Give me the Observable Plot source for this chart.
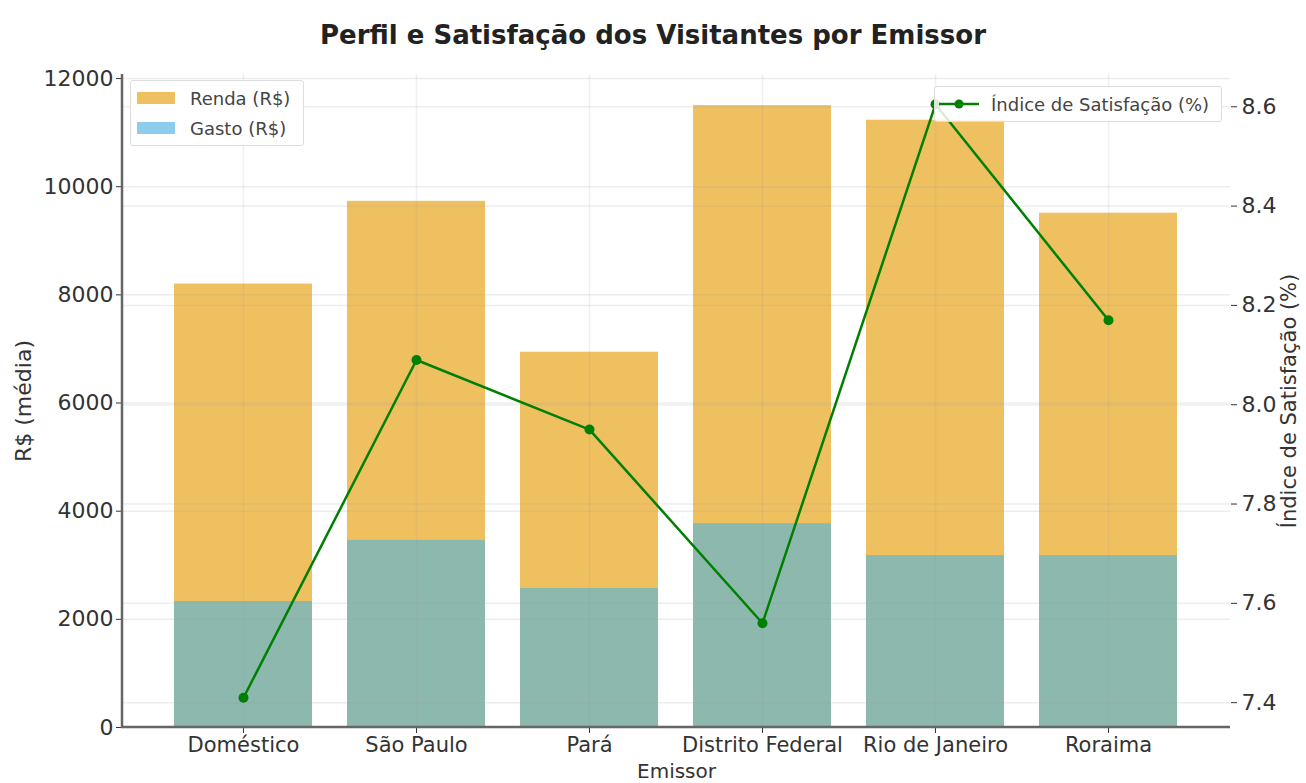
<!DOCTYPE html>
<html>
<head>
<meta charset="utf-8">
<script src="https://cdn.jsdelivr.net/npm/d3@7"></script>
<script src="https://cdn.jsdelivr.net/npm/@observablehq/plot@0.6"></script>
<style>
  body { margin: 0; background: #fff; font-family: "DejaVu Sans", sans-serif; }
  #wrap { position: relative; width: 1306px; height: 783px; }
  #title { height: 56px; width: 1306px; text-align: center; font-weight: bold; font-size: 26px; line-height: 70px; color: #222; }
  .legend { position: absolute; background: rgba(255,255,255,0.85); border: 1px solid #ddd; border-radius: 3px; font-size: 18px; color: #444; }
  .row { display: flex; align-items: center; height: 30px; }
  .sw { width: 38px; height: 12px; margin: 0 15px 0 6px; }
</style>
</head>
<body>
<div id="wrap">
  <div id="title">Perfil e Satisfação dos Visitantes por Emissor</div>
  <div id="chart"></div>
  <div class="legend" style="left:130px; top:80px; width:172px; padding:2px 0;">
    <div class="row"><div class="sw" style="background:#EFC060"></div>Renda (R$)</div>
    <div class="row"><div class="sw" style="background:#8DCDEB"></div>Gasto (R$)</div>
  </div>
  <div class="legend" style="left:934px; top:86px; width:286px; height:34px;">
    <div class="row" style="height:34px;">
      <svg width="44" height="12" style="margin:0 10px 0 2px"><line x1="2" y1="6" x2="42" y2="6" stroke="#008000" stroke-width="2.5"/><circle cx="22" cy="6" r="4.5" fill="#008000"/></svg>Índice de Satisfação (%)
    </div>
  </div>
</div>
<script>
const categories = ["Doméstico", "São Paulo", "Pará", "Distrito Federal", "Rio de Janeiro", "Roraima"];
const renda = [8200, 9730, 6940, 11500, 11230, 9510];
const gasto = [2330, 3460, 2570, 3770, 3180, 3180];
const satisfacao = [7.41, 8.09, 7.95, 7.56, 8.605, 8.17];
const leftTicks = [0, 2000, 4000, 6000, 8000, 10000, 12000];
const rightTicks = [7.4, 7.6, 7.8, 8.0, 8.2, 8.4, 8.6];

const yMax = 12075;
const rMin = 7.35, rMax = 8.665;
const toLeft = s => (s - rMin) / (rMax - rMin) * yMax;
const fromLeft = v => rMin + v / yMax * (rMax - rMin);

const data = categories.map((c, i) => ({cat: c, renda: renda[i], gasto: gasto[i], sat: toLeft(satisfacao[i])}));

const spines = (index, scales, values, dims) => {
  const g = d3.create("svg:g");
  const x0 = dims.marginLeft, x1 = dims.width - dims.marginRight;
  const y0 = dims.marginTop, y1 = dims.height - dims.marginBottom;
  g.append("line").attr("x1", x0).attr("x2", x0).attr("y1", y0).attr("y2", y1 + 1).attr("stroke", "#666").attr("stroke-width", 2.5);
  g.append("line").attr("x1", x0 - 1).attr("x2", x1).attr("y1", y1).attr("y2", y1).attr("stroke", "#666").attr("stroke-width", 2.5);
  return g.node();
};

const chart = Plot.plot({
  width: 1306,
  height: 727,
  marginTop: 18,
  marginBottom: 56,
  marginLeft: 122,
  marginRight: 76,
  style: {fontFamily: "DejaVu Sans, sans-serif", fontSize: "22px", color: "#333", background: "#fff"},
  x: {domain: categories, paddingInner: 0.2, paddingOuter: 0.285, label: null},
  y: {domain: [0, yMax], label: null},
  marks: [
    Plot.barY(data, {x: "cat", y: "renda", fill: "#EFC060"}),
    Plot.barY(data, {x: "cat", y: "gasto", fill: "#8DB8AE"}),
    Plot.gridY(leftTicks, {stroke: "#999", strokeOpacity: 0.18, strokeWidth: 1.5}),
    Plot.gridY(rightTicks.map(toLeft), {stroke: "#999", strokeOpacity: 0.18, strokeWidth: 1.5}),
    Plot.gridX(categories, {stroke: "#999", strokeOpacity: 0.15, strokeWidth: 1.5}),
    Plot.axisY(leftTicks, {anchor: "left", tickSize: 6, tickPadding: 3, label: null, fontSize: 22, tickFormat: d => String(d)}),
    Plot.axisY(rightTicks.map(toLeft), {anchor: "right", tickSize: 6, tickPadding: 5, label: null, fontSize: 22, tickFormat: d => fromLeft(d).toFixed(1)}),
    Plot.axisX({tickSize: 6, tickPadding: 4, label: null, fontSize: 21}),
    spines,
    Plot.line(data, {x: "cat", y: "sat", stroke: "#008000", strokeWidth: 2.5}),
    Plot.dot(data, {x: "cat", y: "sat", r: 5, fill: "#008000"}),
    Plot.text(["R$ (média)"], {frameAnchor: "left", textAnchor: "middle", dx: -99, rotate: -90, fontSize: 22, fill: "#333"}),
    Plot.text(["Índice de Satisfação (%)"], {frameAnchor: "right", textAnchor: "middle", dx: 59, rotate: -90, fontSize: 21, fill: "#333"}),
    Plot.text(["Emissor"], {frameAnchor: "bottom", lineAnchor: "middle", dy: 44, fontSize: 20, fill: "#333"})
  ]
});
document.getElementById("chart").appendChild(chart);
</script>
</body>
</html>
